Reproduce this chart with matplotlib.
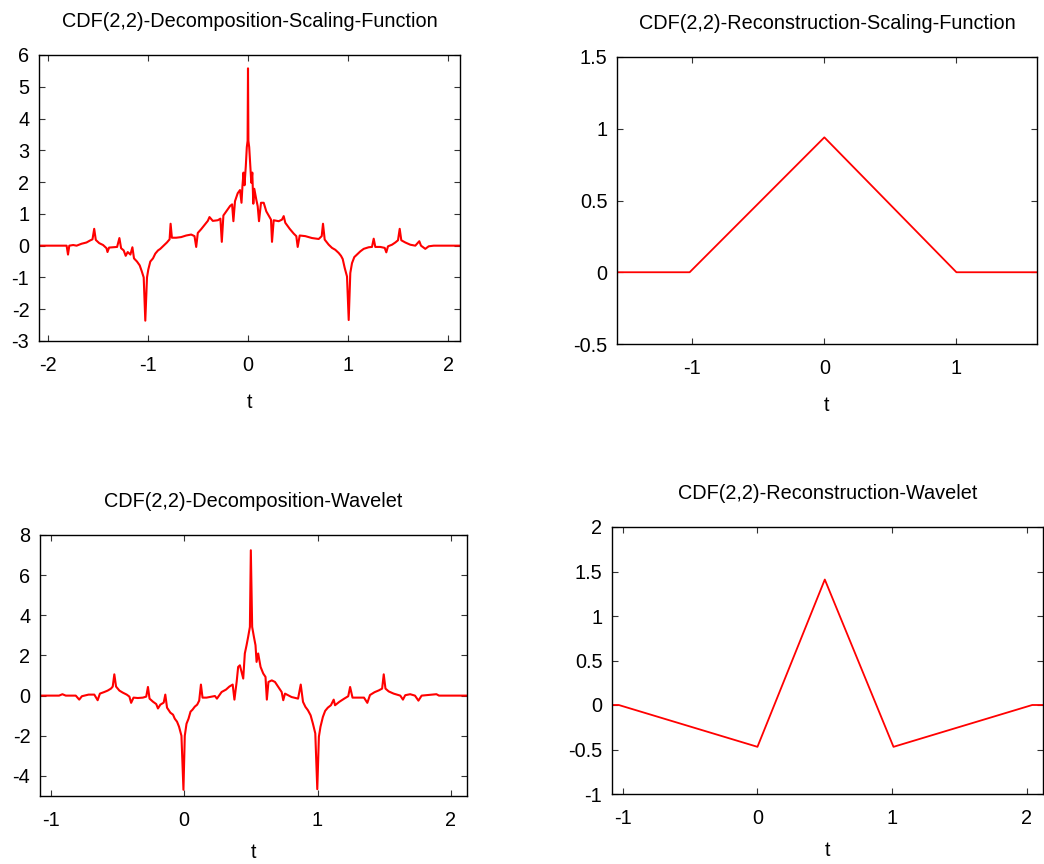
import matplotlib
matplotlib.use("Agg")
import matplotlib.pyplot as plt
from matplotlib.ticker import FormatStrFormatter, MultipleLocator

plt.rcParams['font.family'] = ['Liberation Sans', 'DejaVu Sans']
plt.rcParams['font.size'] = 14.3

# CDF(2,2) decomposition scaling function
dec_phi_t = [-2.09, -1.814, -1.80, -1.787, -1.748, -1.714, -1.665, -1.615, -1.581, -1.555,
             -1.538, -1.522, -1.488, -1.449, -1.415, -1.405, -1.389, -1.342, -1.309, -1.286,
             -1.269, -1.243, -1.223, -1.203, -1.176, -1.156, -1.14, -1.11, -1.083, -1.063,
             -1.043, -1.027, -1.01, -0.997, -0.977, -0.95, -0.927, -0.90, -0.877, -0.844,
             -0.811, -0.784, -0.774, -0.761, -0.718, -0.668, -0.618, -0.568, -0.535, -0.518,
             -0.502, -0.468, -0.435, -0.402, -0.385, -0.352, -0.302, -0.276, -0.262, -0.246,
             -0.213, -0.179, -0.159, -0.146, -0.13, -0.103, -0.08, -0.065, -0.055, -0.045,
             -0.035, -0.022, -0.012, -0.004, 0.0, 0.004, 0.012, 0.023, 0.033, 0.043,
             0.053, 0.063, 0.083, 0.097, 0.11, 0.13, 0.157, 0.183, 0.21, 0.23,
             0.24, 0.257, 0.307, 0.34, 0.357, 0.373, 0.417, 0.457, 0.483, 0.497,
             0.517, 0.573, 0.64, 0.707, 0.737, 0.75, 0.767, 0.807, 0.84, 0.873,
             0.907, 0.93, 0.947, 0.967, 0.99, 1.007, 1.023, 1.04, 1.063, 1.09,
             1.123, 1.157, 1.207, 1.24, 1.257, 1.273, 1.323, 1.367, 1.383, 1.40,
             1.44, 1.473, 1.50, 1.517, 1.533, 1.573, 1.623, 1.673, 1.713, 1.73,
             1.773, 1.807, 1.857, 2.12]
dec_phi_v = [0.0, 0.0, -0.28, 0.0, 0.02, 0.0, 0.06, 0.1, 0.16, 0.2,
             0.53, 0.18, 0.08, 0.02, -0.08, -0.2, -0.06, -0.05, -0.04, 0.24,
             -0.08, -0.15, -0.32, -0.2, -0.28, -0.05, -0.4, -0.5, -0.62, -0.8,
             -1.0, -2.36, -1.0, -0.75, -0.5, -0.4, -0.25, -0.15, -0.1, 0.0,
             0.1, 0.2, 0.69, 0.25, 0.25, 0.27, 0.32, 0.35, 0.3, -0.04,
             0.4, 0.52, 0.65, 0.78, 0.9, 0.78, 0.8, 0.85, 0.12, 0.95,
             1.1, 1.25, 1.3, 0.77, 1.4, 1.65, 1.75, 1.35, 1.9, 2.3,
             1.9, 2.5, 3.1, 3.3, 5.58, 3.3, 3.1, 2.5, 1.98, 2.3,
             1.32, 1.79, 1.45, 1.24, 0.77, 1.35, 1.35, 1.08, 0.93, 0.82,
             0.12, 0.8, 0.77, 0.82, 0.93, 0.72, 0.53, 0.38, 0.3, -0.04,
             0.32, 0.3, 0.24, 0.21, 0.3, 0.69, 0.19, 0.03, -0.07, -0.13,
             -0.23, -0.32, -0.42, -0.7, -0.97, -2.34, -0.86, -0.55, -0.36, -0.28,
             -0.18, -0.1, -0.05, -0.04, 0.22, -0.04, -0.04, -0.07, -0.21, -0.02,
             0.03, 0.1, 0.17, 0.53, 0.17, 0.1, 0.03, 0.0, 0.14, 0.0,
             -0.1, -0.02, 0.0, 0.0]

# CDF(2,2) reconstruction scaling function
rec_phi_t = [-1.57, -1.02, 0.0, 1.0, 1.61]
rec_phi_v = [0.0, 0.0, 0.94, 0.0, 0.0]

# CDF(2,2) decomposition wavelet
dec_psi_t = [-1.08, -0.937, -0.912, -0.887, -0.812, -0.786, -0.766, -0.716, -0.673, -0.648,
             -0.631, -0.598, -0.573, -0.548, -0.535, -0.523, -0.51, -0.485, -0.46, -0.43,
             -0.41, -0.397, -0.379, -0.347, -0.309, -0.284, -0.271, -0.259, -0.234, -0.209,
             -0.196, -0.178, -0.153, -0.141, -0.128, -0.103, -0.083, -0.07, -0.053, -0.038,
             -0.02, -0.005, 0.005, 0.018, 0.033, 0.048, 0.063, 0.08, 0.098, 0.113,
             0.126, 0.138, 0.168, 0.206, 0.231, 0.246, 0.281, 0.314, 0.339, 0.364,
             0.377, 0.394, 0.405, 0.418, 0.443, 0.455, 0.468, 0.48, 0.493, 0.5,
             0.51, 0.523, 0.535, 0.543, 0.555, 0.573, 0.593, 0.61, 0.62, 0.632,
             0.657, 0.681, 0.706, 0.731, 0.743, 0.756, 0.805, 0.854, 0.874, 0.891,
             0.909, 0.928, 0.948, 0.965, 0.983, 0.998, 1.01, 1.022, 1.04, 1.057,
             1.077, 1.10, 1.121, 1.131, 1.163, 1.20, 1.23, 1.244, 1.262, 1.299,
             1.348, 1.373, 1.393, 1.427, 1.459, 1.484, 1.496, 1.509, 1.533, 1.57,
             1.62, 1.64, 1.657, 1.694, 1.73, 1.756, 1.78, 1.891, 1.91, 2.12]
dec_psi_v = [0.0, 0.0, 0.07, 0.0, 0.0, -0.2, -0.03, 0.05, 0.05, -0.23,
             0.1, 0.18, 0.25, 0.35, 0.45, 1.06, 0.45, 0.25, 0.15, 0.05,
             -0.05, -0.36, -0.1, -0.12, -0.1, -0.05, 0.43, -0.15, -0.3, -0.42,
             -0.64, -0.45, -0.35, 0.05, -0.6, -0.85, -0.95, -1.15, -1.3, -1.55,
             -2.0, -4.69, -2.0, -1.4, -1.15, -0.8, -0.7, -0.55, -0.45, -0.25,
             0.55, -0.1, -0.1, -0.05, -0.02, -0.15, 0.18, 0.3, 0.45, 0.55,
             -0.2, 0.7, 1.43, 1.51, 0.85, 2.1, 2.51, 2.93, 3.42, 7.24,
             3.42, 2.93, 2.51, 1.68, 2.1, 1.43, 1.1, 0.93, -0.2, 0.68,
             0.76, 0.68, 0.43, 0.18, -0.23, 0.1, -0.07, -0.15, 0.55, -0.31,
             -0.56, -0.73, -0.98, -1.39, -1.88, -4.66, -2.05, -1.55, -1.06, -0.76,
             -0.6, -0.48, -0.2, -0.48, -0.31, -0.15, -0.03, 0.43, -0.1, -0.1,
             -0.1, -0.36, 0.03, 0.17, 0.26, 0.35, 1.06, 0.35, 0.21, 0.1,
             0.0, -0.2, 0.02, 0.07, 0.0, -0.25, 0.0, 0.07, 0.0, 0.0]

# CDF(2,2) reconstruction wavelet
rec_psi_t = [-1.08, -1.03, 0.0, 0.5, 1.01, 2.04, 2.12]
rec_psi_v = [0.0, 0.0, -0.47, 1.41, -0.47, 0.0, 0.0]

W, H = 1044, 864
fig = plt.figure(figsize=(W / 100, H / 100), dpi=100)


def box(l, r, t, b):
    return [l / W, 1 - b / H, (r - l) / W, (b - t) / H]


panels = [
    (box(39, 460, 55, 341), dec_phi_t, dec_phi_v, 'CDF(2,2)-Decomposition-Scaling-Function',
     (-2.09, 2.12), (-3, 6), 1, 1.5, 13),
    (box(617, 1037, 57, 344), rec_phi_t, rec_phi_v, 'CDF(2,2)-Reconstruction-Scaling-Function',
     (-1.57, 1.61), (-0.5, 1.5), 0.5, 1.3, 13),
    (box(40, 467, 535, 796), dec_psi_t, dec_psi_v, 'CDF(2,2)-Decomposition-Wavelet',
     (-1.08, 2.12), (-5, 8), 2, 1.5, 9),
    (box(612, 1043, 527, 794), rec_psi_t, rec_psi_v, 'CDF(2,2)-Reconstruction-Wavelet',
     (-1.08, 2.12), (-1, 2), 0.5, 1.3, 9),
]

for rect, t, v, title, xl, yl, ystep, lw, lpad in panels:
    ax = fig.add_axes(rect)
    ax.plot(t, v, color='red', lw=lw)
    ax.set_xlim(*xl)
    ax.set_ylim(*yl)
    ax.xaxis.set_major_locator(MultipleLocator(1))
    ax.yaxis.set_major_locator(MultipleLocator(ystep))
    ax.xaxis.set_major_formatter(FormatStrFormatter('%g'))
    ax.yaxis.set_major_formatter(FormatStrFormatter('%g'))
    ax.tick_params(direction='in', length=4, width=0.8, top=True, right=True,
                   labelsize=14.3, color='#333333')
    ax.tick_params(axis='x', pad=11)
    ax.tick_params(axis='y', pad=7)
    for s in ax.spines.values():
        s.set_linewidth(1.0)
    ax.set_title(title, fontsize=14.3, pad=20)
    ax.set_xlabel('t', fontsize=14.3, labelpad=lpad)

fig.savefig('out.png', dpi=100)
